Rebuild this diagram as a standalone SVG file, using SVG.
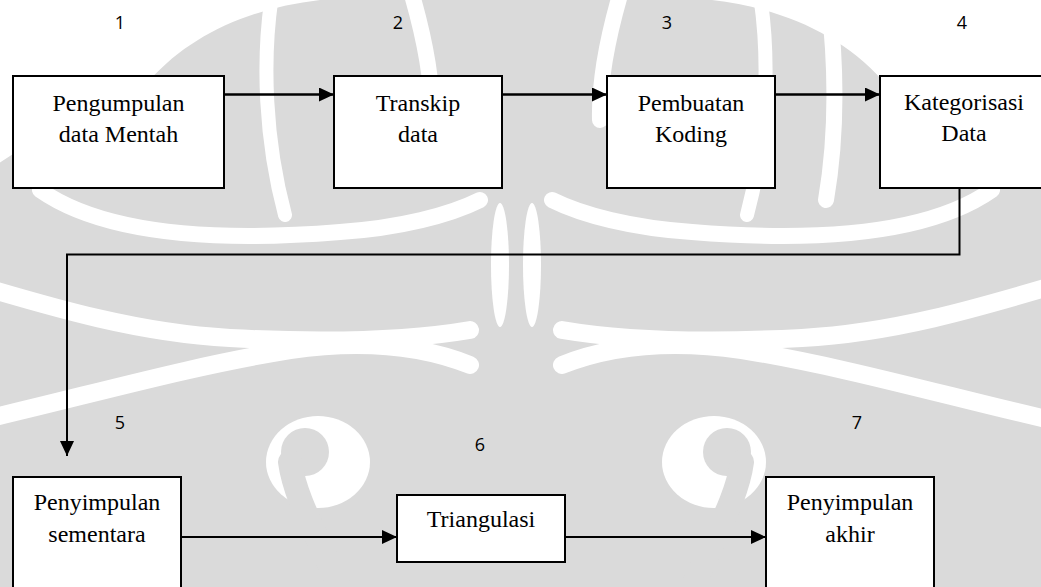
<svg xmlns="http://www.w3.org/2000/svg" width="1041" height="587" viewBox="0 0 1041 587">
  <style>
    .box { fill: #ffffff; stroke: #000000; stroke-width: 2; }
    .lbl { font-family: "Liberation Serif", "Times New Roman", serif; font-size: 24px; fill: #000000; text-anchor: middle; }
    .num { font-family: "Open Sans", "Liberation Sans", sans-serif; font-size: 18px; fill: #000000; text-anchor: middle; }
    .conn { fill: none; stroke: #000000; stroke-width: 2.5; }
    .conn2 { fill: none; stroke: #000000; stroke-width: 2; }
    .wm { fill: #dadada; }
    .wmw { fill: none; stroke: #ffffff; stroke-linecap: round; }
    .wmg { fill: none; stroke: #dadada; stroke-linecap: round; }
  </style>
  <defs>
    <marker id="ah" markerUnits="userSpaceOnUse" markerWidth="16" markerHeight="14" refX="15" refY="7" orient="auto">
      <path d="M0,0 L15,7 L0,14 Z" fill="#000000"/>
    </marker>
    <g id="wmHalf">
      <path class="wm" d="M150 80 C190 35 250 8 320 0 L518 0 L518 587 L-40 587 L-40 190 C30 140 100 100 150 80 Z"/>
      <path class="wmw" stroke-width="14" d="M272 -5 C262 60 265 140 285 215"/>
      <path class="wmw" stroke-width="16" d="M412 -5 C425 40 433 80 432 120"/>
      <ellipse cx="500" cy="265" rx="9" ry="62" fill="#ffffff"/>
      <path class="wmw" stroke-width="16" d="M40 190 C90 225 180 245 340 232 C400 228 450 215 480 200"/>
      <path class="wmw" stroke-width="18" d="M-40 280 C60 310 140 333 230 338 C310 342 400 342 470 330"/>
      <path class="wmw" stroke-width="18" d="M-40 425 C80 398 180 368 290 350 C360 340 420 345 470 365"/>
      <ellipse cx="318" cy="462" rx="52" ry="46" fill="#ffffff"/>
      <circle cx="305" cy="452" r="24" fill="#dadada"/>
      <path class="wmg" stroke-width="24" d="M290 462 C295 500 320 540 345 600"/>
    </g>
  </defs>

  <rect x="0" y="0" width="1041" height="587" fill="#ffffff"/>
  <g id="watermark">
    <use href="#wmHalf"/>
    <use href="#wmHalf" transform="matrix(-1,0,0,1,1032,0)"/>
    <path class="wmw" stroke-width="16" d="M828 -5 C836 60 838 130 826 200"/>
  </g>

  <g id="connectors">
    <line class="conn" x1="224" y1="94.5" x2="334" y2="94.5" marker-end="url(#ah)"/>
    <line class="conn" x1="502" y1="94.5" x2="607" y2="94.5" marker-end="url(#ah)"/>
    <line class="conn" x1="775" y1="94.5" x2="880" y2="94.5" marker-end="url(#ah)"/>
    <polyline class="conn2" points="959.5,188 959.5,254.5 67,254.5 67,456" marker-end="url(#ah)"/>
    <line class="conn2" x1="181" y1="537" x2="397" y2="537" marker-end="url(#ah)"/>
    <line class="conn2" x1="565" y1="537" x2="766" y2="537" marker-end="url(#ah)"/>
  </g>

  <g id="node1">
    <rect class="box" x="13" y="76" width="211" height="112"/>
    <text class="lbl" x="118.5" y="111">Pengumpulan</text>
    <text class="lbl" x="118.5" y="142">data Mentah</text>
    <text class="num" x="120" y="29">1</text>
  </g>
  <g id="node2">
    <rect class="box" x="334" y="76" width="168" height="112"/>
    <text class="lbl" x="418" y="111">Transkip</text>
    <text class="lbl" x="418" y="142">data</text>
    <text class="num" x="398" y="29">2</text>
  </g>
  <g id="node3">
    <rect class="box" x="607" y="76" width="168" height="112"/>
    <text class="lbl" x="691" y="111">Pembuatan</text>
    <text class="lbl" x="691" y="142">Koding</text>
    <text class="num" x="667" y="29">3</text>
  </g>
  <g id="node4">
    <rect class="box" x="880" y="76" width="170" height="112"/>
    <text class="lbl" x="964" y="110">Kategorisasi</text>
    <text class="lbl" x="964" y="141">Data</text>
    <text class="num" x="962" y="29">4</text>
  </g>
  <g id="node5">
    <rect class="box" x="13" y="477" width="168" height="120"/>
    <text class="lbl" x="97" y="510">Penyimpulan</text>
    <text class="lbl" x="97" y="542">sementara</text>
    <text class="num" x="120" y="429">5</text>
  </g>
  <g id="node6">
    <rect class="box" x="397" y="495" width="168" height="67"/>
    <text class="lbl" x="481" y="527">Triangulasi</text>
    <text class="num" x="480" y="451">6</text>
  </g>
  <g id="node7">
    <rect class="box" x="766" y="477" width="168" height="120"/>
    <text class="lbl" x="850" y="510">Penyimpulan</text>
    <text class="lbl" x="850" y="542">akhir</text>
    <text class="num" x="857" y="429">7</text>
  </g>
</svg>
